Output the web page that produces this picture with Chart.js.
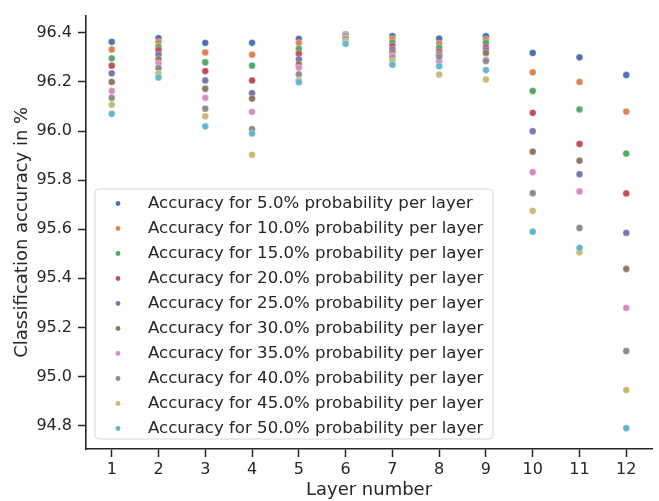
<!DOCTYPE html>
<html>
<head>
<meta charset="utf-8">
<script src="https://cdn.jsdelivr.net/npm/chart.js@4.4.1/dist/chart.umd.min.js"></script>
<style>
  html, body { margin: 0; padding: 0; background: #fff; }
  canvas { display: block; }
</style>
</head>
<body>
<canvas id="accChart" width="659" height="501"></canvas>
<script>
// layers on the x axis and the dropout probabilities of the series
const layers = [1, 2, 3, 4, 5, 6, 7, 8, 9, 10, 11, 12];
const probabilities = [5, 10, 15, 20, 25, 30, 35, 40, 45, 50];
const yTicks = [94.8, 95.0, 95.2, 95.4, 95.6, 95.8, 96.0, 96.2, 96.4];

// accuracy (%) per layer, one array per probability
const acc05 = [96.363, 96.378, 96.359, 96.359, 96.375, 96.393, 96.386, 96.376, 96.386, 96.318, 96.300, 96.228];
const acc10 = [96.332, 96.363, 96.320, 96.311, 96.359, 96.391, 96.375, 96.356, 96.372, 96.239, 96.200, 96.079];
const acc15 = [96.296, 96.343, 96.280, 96.266, 96.335, 96.389, 96.360, 96.339, 96.359, 96.163, 96.088, 95.908];
const acc20 = [96.266, 96.330, 96.244, 96.206, 96.315, 96.387, 96.346, 96.323, 96.340, 96.074, 95.947, 95.746];
const acc25 = [96.235, 96.312, 96.206, 96.154, 96.292, 96.384, 96.332, 96.314, 96.330, 95.999, 95.824, 95.585];
const acc30 = [96.200, 96.292, 96.172, 96.132, 96.272, 96.381, 96.319, 96.310, 96.318, 95.916, 95.879, 95.438];
const acc35 = [96.163, 96.276, 96.135, 96.078, 96.258, 96.377, 96.308, 96.284, 96.291, 95.832, 95.754, 95.280];
const acc40 = [96.135, 96.256, 96.091, 96.008, 96.231, 96.373, 96.298, 96.303, 96.285, 95.747, 95.605, 95.104];
const acc45 = [96.107, 96.234, 96.060, 95.903, 96.207, 96.365, 96.287, 96.230, 96.210, 95.675, 95.506, 94.945];
const acc50 = [96.070, 96.218, 96.019, 95.990, 96.199, 96.355, 96.270, 96.264, 96.248, 95.590, 95.524, 94.790];

const series = [acc05, acc10, acc15, acc20, acc25, acc30, acc35, acc40, acc45, acc50];
const colors = ['#4c72b0', '#dd8452', '#55a868', '#c44e52', '#8172b3',
                '#937860', '#da8bc3', '#8c8c8c', '#ccb974', '#64b5cd'];

const ink = '#262626';
const fontFamily = '"DejaVu Sans", sans-serif';

const datasets = series.map((vals, i) => ({
  label: 'Accuracy for ' + probabilities[i].toFixed(1) + '% probability per layer',
  data: layers.map((l, j) => ({ x: l, y: vals[j] })),
  backgroundColor: colors[i],
  borderColor: 'rgba(255,255,255,0.8)',
  borderWidth: 0.4,
  pointRadius: 3.4,
  order: series.length - i   // later series drawn on top, like matplotlib
}));

// legend box in the lower left of the plot area
const boxLegend = {
  id: 'boxLegend',
  afterDatasetsDraw(chart) {
    const { ctx, chartArea } = chart;
    const rowH = 25;
    const x0 = chartArea.left + 9;
    const w = 398;
    const h = 250;
    const y0 = chartArea.bottom - 10 - h;
    ctx.save();
    ctx.beginPath();
    ctx.roundRect(x0, y0, w, h, 4);
    ctx.fillStyle = 'rgba(255,255,255,0.85)';
    ctx.fill();
    ctx.strokeStyle = '#d6d6d6';
    ctx.lineWidth = 1;
    ctx.stroke();
    ctx.font = '16.6px ' + fontFamily;
    ctx.textBaseline = 'middle';
    ctx.textAlign = 'left';
    chart.data.datasets.forEach((ds, i) => {
      const cy = y0 + 14.5 + i * rowH;
      ctx.beginPath();
      ctx.arc(x0 + 23, cy, 2.4, 0, Math.PI * 2);
      ctx.fillStyle = ds.backgroundColor;
      ctx.fill();
      ctx.fillStyle = ink;
      ctx.fillText(ds.label, x0 + 53, cy + 0.5);
    });
    ctx.restore();
  }
};

new Chart(document.getElementById('accChart'), {
  type: 'scatter',
  data: { datasets: datasets },
  options: {
    responsive: false,
    animation: false,
    layout: { padding: { top: 8, right: 7, left: 0, bottom: 0 } },
    plugins: {
      legend: { display: false },
      tooltip: { enabled: false }
    },
    scales: {
      x: {
        type: 'linear',
        min: 0.45,
        max: 12.55,
        afterBuildTicks: s => { s.ticks = layers.map(v => ({ value: v })); },
        afterFit: s => { s.height = 52; },
        grid: { drawOnChartArea: false, drawTicks: true, tickLength: 8, tickWidth: 1.5, tickColor: ink },
        border: { display: true, color: ink, width: 1.6 },
        ticks: { color: ink, padding: 3, font: { family: fontFamily, size: 16 }, callback: v => String(v) },
        title: { display: true, text: 'Layer number', color: ink, padding: { top: 0, bottom: 0 },
                 font: { family: fontFamily, size: 18 } }
      },
      y: {
        type: 'linear',
        min: 94.705,
        max: 96.47,
        afterBuildTicks: s => { s.ticks = yTicks.map(v => ({ value: v })); },
        afterFit: s => { s.width = 86; },
        grid: { drawOnChartArea: false, drawTicks: true, tickLength: 8, tickWidth: 1.5, tickColor: ink },
        border: { display: true, color: ink, width: 1.6 },
        ticks: { color: ink, padding: 6, font: { family: fontFamily, size: 16 }, callback: v => v.toFixed(1) },
        title: { display: true, text: 'Classification accuracy in %', color: ink, padding: { top: 12, bottom: 0 },
                 font: { family: fontFamily, size: 18 } }
      }
    }
  },
  plugins: [boxLegend]
});
</script>
</body>
</html>
